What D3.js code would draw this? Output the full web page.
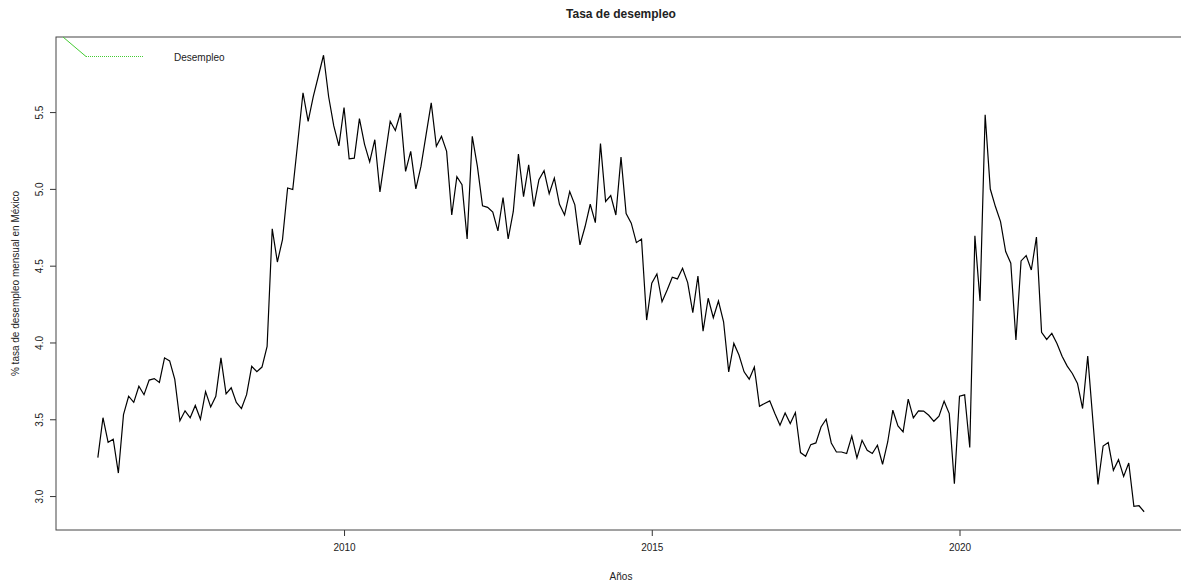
<!DOCTYPE html>
<html>
<head>
<meta charset="utf-8">
<script src="https://cdn.jsdelivr.net/npm/d3@7"></script>
<style>
  body { margin: 0; background: #fff; }
  text { font-family: "Liberation Sans", Arial, sans-serif; fill: #222; }
</style>
</head>
<body>
<div id="chart"></div>
<script>
// Monthly series starts January 2006
var startYear = 2006;
var rate = [
  3.25, 3.51, 3.35, 3.37, 3.15, 3.53, 3.65, 3.61, 3.715, 3.66, 3.755, 3.765,
  3.74, 3.90, 3.88, 3.76, 3.49, 3.555, 3.51, 3.59, 3.50, 3.68, 3.58, 3.65,
  3.90, 3.665, 3.705, 3.61, 3.57, 3.66, 3.845, 3.81, 3.84, 3.975, 4.74, 4.524,
  4.67, 5.006, 4.996, 5.31, 5.626, 5.44, 5.60, 5.735, 5.87, 5.60, 5.41, 5.28,
  5.53, 5.196, 5.20, 5.457, 5.29, 5.176, 5.32, 4.98, 5.21, 5.44, 5.38, 5.494,
  5.114, 5.244, 5.00, 5.146, 5.353, 5.56, 5.277, 5.342, 5.244, 4.83, 5.08, 5.027,
  4.674, 5.342, 5.146, 4.89, 4.88, 4.849, 4.727, 4.944, 4.674, 4.853, 5.227, 4.95,
  5.157, 4.885, 5.06, 5.118, 4.968, 5.07, 4.90, 4.83, 4.983, 4.896, 4.635, 4.755,
  4.90, 4.78, 5.295, 4.918, 4.957, 4.83, 5.207, 4.84, 4.777, 4.65, 4.673, 4.146,
  4.386, 4.446, 4.265, 4.342, 4.425, 4.414, 4.483, 4.39, 4.194, 4.433, 4.074, 4.288,
  4.161, 4.27, 4.135, 3.809, 3.994, 3.918, 3.809, 3.761, 3.84, 3.585, 3.603, 3.62,
  3.537, 3.461, 3.541, 3.472, 3.544, 3.283, 3.259, 3.335, 3.346, 3.45, 3.50, 3.346,
  3.287, 3.287, 3.277, 3.39, 3.248, 3.363, 3.298, 3.277, 3.331, 3.207, 3.352, 3.559,
  3.457, 3.418, 3.631, 3.509, 3.555, 3.553, 3.526, 3.487, 3.52, 3.618, 3.537, 3.081,
  3.65, 3.659, 3.316, 4.694, 4.27, 5.483, 4.999, 4.885, 4.787, 4.592, 4.516, 4.016,
  4.531, 4.566, 4.472, 4.686, 4.066, 4.02, 4.059, 3.994, 3.911, 3.846, 3.798, 3.733,
  3.57, 3.911, 3.494, 3.076, 3.326, 3.348, 3.168, 3.237, 3.128, 3.215, 2.933, 2.937,
  2.898
];
var xTicks = [2010, 2015, 2020];
var yTicks = [3.0, 3.5, 4.0, 4.5, 5.0, 5.5];

var svgWidth = 1181;
var svgHeight = 583;

// plot box, right edge runs a bit past the window like the original
var margin = { top: 37, right: -5, bottom: 53, left: 56 };
var chartWidth = svgWidth - margin.left - margin.right;
var chartHeight = svgHeight - margin.top - margin.bottom;

var svg = d3.select("#chart")
  .append("svg")
  .attr("width", svgWidth)
  .attr("height", svgHeight);

var chartGroup = svg.append("g")
  .attr("transform", `translate(${margin.left}, ${margin.top})`);

var data = rate.map(function(v, i) {
  return { t: startYear + i / 12, v: v };
});

// R style 4% padding on both axes
var tExt = d3.extent(data, d => d.t);
var vExt = d3.extent(data, d => d.v);
var tPad = (tExt[1] - tExt[0]) * 0.04;
var vPad = (vExt[1] - vExt[0]) * 0.04;

var xScale = d3.scaleLinear()
  .domain([tExt[0] - tPad, tExt[1] + tPad])
  .range([0, chartWidth]);

var yScale = d3.scaleLinear()
  .domain([vExt[0] - vPad, vExt[1] + vPad])
  .range([chartHeight, 0]);

// axes
var bottomAxis = d3.axisBottom(xScale)
  .tickValues(xTicks)
  .tickFormat(d3.format("d"))
  .tickSize(6)
  .tickPadding(8);

var leftAxis = d3.axisLeft(yScale)
  .tickValues(yTicks)
  .tickFormat(d3.format(".1f"))
  .tickSize(6);

var xAxisG = chartGroup.append("g")
  .attr("transform", `translate(0, ${chartHeight})`)
  .call(bottomAxis);

var yAxisG = chartGroup.append("g")
  .call(leftAxis);

[xAxisG, yAxisG].forEach(function(g) {
  g.select(".domain").remove();
  g.selectAll("line").attr("stroke", "#333");
  g.selectAll("text")
    .style("font-size", "10px")
    .style("font-family", "'Liberation Sans', Arial, sans-serif")
    .attr("fill", "#222");
});

// rotated y tick labels
yAxisG.selectAll("text")
  .attr("x", 0)
  .attr("dy", 0)
  .attr("text-anchor", "middle")
  .attr("transform", "translate(-13,0) rotate(-90)");

// the series
var line = d3.line()
  .x(d => xScale(d.t))
  .y(d => yScale(d.v));

chartGroup.append("path")
  .datum(data)
  .attr("fill", "none")
  .attr("stroke", "#000")
  .attr("stroke-width", 1.2)
  .attr("d", line);

// box
chartGroup.append("rect")
  .attr("width", chartWidth)
  .attr("height", chartHeight)
  .attr("fill", "none")
  .attr("stroke", "#444")
  .attr("stroke-width", 1);

// legend in the top left corner
var legend = chartGroup.append("g");
legend.append("line")
  .attr("x1", 7).attr("y1", 0)
  .attr("x2", 30).attr("y2", 19.5)
  .attr("stroke", "#44cc33");
legend.append("line")
  .attr("x1", 30).attr("y1", 19.5)
  .attr("x2", 88).attr("y2", 19.5)
  .attr("stroke", "#44cc33")
  .attr("stroke-dasharray", "1,1");
legend.append("text")
  .attr("x", 118)
  .attr("y", 24)
  .style("font-size", "10px")
  .text("Desempleo");

// titles
svg.append("text")
  .attr("x", margin.left + chartWidth / 2)
  .attr("y", 18)
  .attr("text-anchor", "middle")
  .style("font-size", "12px")
  .style("font-weight", "bold")
  .attr("fill", "#000")
  .text("Tasa de desempleo");

svg.append("text")
  .attr("x", margin.left + chartWidth / 2)
  .attr("y", 580)
  .attr("text-anchor", "middle")
  .style("font-size", "10px")
  .text("Años");

svg.append("text")
  .attr("transform", `translate(19, ${margin.top + chartHeight / 2}) rotate(-90)`)
  .attr("text-anchor", "middle")
  .style("font-size", "10px")
  .text("% tasa de desempleo mensual en México");
</script>
</body>
</html>
